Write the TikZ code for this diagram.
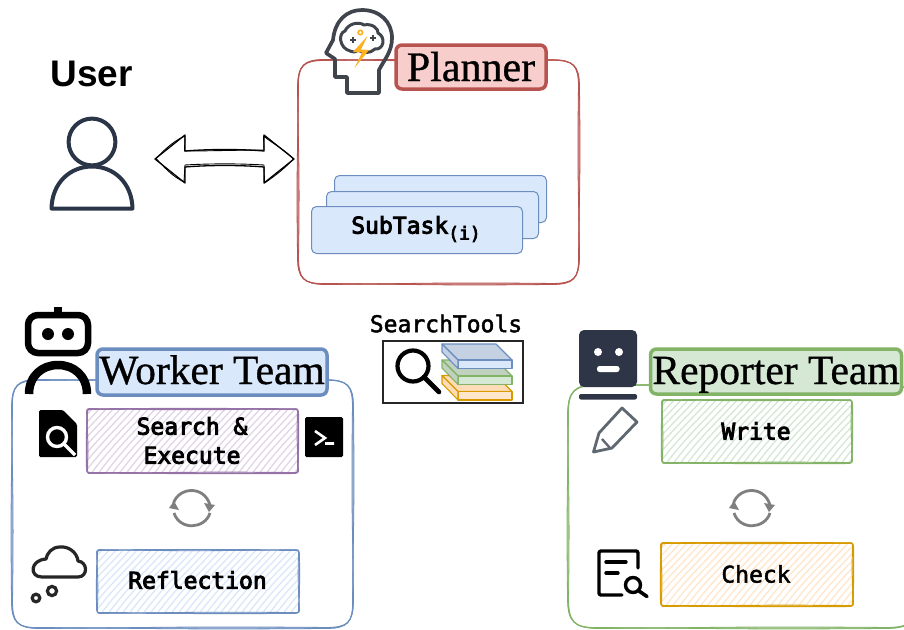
\documentclass[tikz,border=0pt]{standalone}
\usepackage{fontspec}
\setmainfont[FakeBold=0.8]{Liberation Serif}
\setsansfont{Liberation Sans}
\setmonofont{DejaVu Sans Mono}
\newfontfamily\monomed[FakeBold=4]{DejaVu Sans Mono}
\newfontfamily\monolite[FakeBold=2]{DejaVu Sans Mono}
\definecolor{redS}{HTML}{B85450}\definecolor{redF}{HTML}{F8CECC}
\definecolor{bluS}{HTML}{6C8EBF}\definecolor{bluF}{HTML}{DAE8FC}
\definecolor{grnS}{HTML}{82B366}\definecolor{grnF}{HTML}{D5E8D4}
\definecolor{oraS}{HTML}{D79B00}\definecolor{oraF}{HTML}{FFE6CC}
\definecolor{purS}{HTML}{9673A6}\definecolor{purF}{HTML}{E1D5E7}
\definecolor{navy}{HTML}{2A3647}\definecolor{headG}{HTML}{3F444D}
\definecolor{robo}{HTML}{2E3547}\definecolor{penG}{HTML}{5F6770}
\definecolor{cyc}{HTML}{7F7F7F}\definecolor{bolt}{HTML}{FDB022}
\newcommand\wob[6]{% x1 y1 x2 y2 r d
  ({#1+#5},{#2+0.3*#6}) .. controls ({(#1+#3)/2},{#2-#6}) and ({(#1+#3)/2+10},{#2-0.5*#6}) .. ({#3-#5},{#2+0.2*#6})
  .. controls ({#3-0.2*#5},{#2}) and ({#3+0.3*#6},{#2+0.2*#5}) .. ({#3+0.3*#6},{#2+#5})
  .. controls ({#3+#6},{(#2+#4)/2}) and ({#3+0.4*#6},{(#2+#4)/2+5}) .. ({#3-0.3*#6},{#4-#5})
  .. controls ({#3},{#4-0.2*#5}) and ({#3-0.2*#5},{#4+0.3*#6}) .. ({#3-#5},{#4+0.3*#6})
  .. controls ({(#1+#3)/2},{#4+#6}) and ({(#1+#3)/2-10},{#4+0.3*#6}) .. ({#1+#5},{#4-0.3*#6})
  .. controls ({#1+0.2*#5},{#4}) and ({#1-0.3*#6},{#4-0.2*#5}) .. ({#1-0.3*#6},{#4-#5})
  .. controls ({#1-#6},{(#2+#4)/2}) and ({#1-0.4*#6},{(#2+#4)/2-5}) .. ({#1+0.3*#6},{#2+#5})
  .. controls ({#1},{#2+0.2*#5}) and ({#1+0.2*#5},{#2+0.3*#6}) .. cycle}
\newcommand\bigbox[6]{% x1 y1 x2 y2 r colour
  \draw[#6,line width=1.1] \wob{#1}{#2}{#3}{#4}{#5}{0};
  \draw[#6,line width=.8] \wob{#1}{#2}{#3}{#4}{#5}{1.6};
  \draw[#6,line width=.8] \wob{#1}{#2}{#3}{#4}{#5}{-1.8};}
\newcommand\hatchbox[7]{% x1 y1 x2 y2 stroke hatch lw
  \begin{scope}
    \clip \wob{#1}{#2}{#3}{#4}{4}{0};
    \foreach \hx in {0,7,...,300}{
      \draw[#6,line width=1.3] ({#1-60+\hx},{#4+2}) .. controls ({#1-40+\hx},{#4-25}) and ({#1-20+\hx},{#2+20}) .. ({#1+\hx},{#2-2});}
  \end{scope}
  \draw[#5,line width=#7] \wob{#1}{#2}{#3}{#4}{4}{0.6};
  \draw[#5,line width=#7*.6] \wob{#1}{#2}{#3}{#4}{2}{-1.4};}
\newcommand\cycicon[2]{%
  \begin{scope}[shift={(#1,#2)}]
    \draw[cyc,line width=2.8] (-18.5,-5) .. controls (-13,-21) and (12,-23) .. (18,-3);
    \draw[cyc,line width=2.8] (-18,5) .. controls (-12,23) and (13,21) .. (18,5);
    \fill[cyc] (12,-5) -- (23,-3) -- (17,4) -- cycle;
    \fill[cyc] (-23,0) -- (-13,2) -- (-18,-7) -- cycle;
  \end{scope}}
\newcommand\layer[4]{% dy stroke top front
  \begin{scope}[shift={(0,#1)}]
    \filldraw[draw=#2,fill=#3,line width=1.1,line join=round] (442,344) -- (496,344) -- (512,360) -- (458,360) -- cycle;
    \filldraw[draw=#2,fill=#4,line width=1.1,line join=round] (458,360) rectangle (512,368.5);
    \filldraw[draw=#2,fill=#3,line width=1.1,line join=round] (442,344) -- (442,352) -- (458,368.5) -- (458,360) -- cycle;
  \end{scope}}
\tikzset{
  x=1pt,y=-1pt,
  titlebox/.style={draw=#1,line width=3.5,rounded corners=6,inner sep=0pt,anchor=center,font=\fontsize{41.5}{44}\selectfont,text=black},
  monotxt/.style={font=\monomed\fontsize{23}{29}\selectfont,text=black,inner sep=0pt,align=center},
  taskbox/.style={draw=bluS,fill=bluF,line width=1,rounded corners=5,minimum width=212,minimum height=47,inner sep=0pt},
}
\begin{document}
\begin{tikzpicture}
\useasboundingbox (0,0) rectangle (904,629);
\fill[white] (0,0) rectangle (904,629);
% User
\node[font=\sffamily\bfseries\fontsize{37}{40}\selectfont,inner sep=0pt] (usr) at (91.5,73.5) {User};
\draw[navy,line width=4] (92,142) circle[radius=23.4];
\draw[navy,line width=4,line join=round] (51.5,208.5) .. controls (52,183) and (70,166.5) .. (92,166.5) .. controls (114,166.5) and (132,183) .. (132.5,208.5) -- cycle;
% double arrow
\draw[black,line width=1.3,line join=round] (155,159) -- (185,135) -- (185,151) .. controls (210,149) and (240,149) .. (264,151) -- (264,135) -- (294,159) -- (264,183) -- (264,167) .. controls (240,165) and (210,165) .. (185,167) -- (185,183) -- cycle;
\draw[black,line width=.9,line join=round] (156,158.5) .. controls (168,146) and (176,140) .. (185,136) -- (184.5,151) .. controls (210,151) and (240,150) .. (264,150) -- (263.5,136) .. controls (275,145) and (285,150) .. (293.5,159) .. controls (285,168) and (275,176) .. (264.5,183) -- (264,165) .. controls (240,163.5) and (210,163.5) .. (185,165) -- (184,182) .. controls (172,176) and (165,168) .. (156,158.5);
% Planner
\bigbox{298}{60}{579}{284}{27}{redS}
\foreach \px/\py/\pn in {334/175/a,326/191/b}{\node[taskbox,anchor=north west] (task\pn) at (\px,\py) {};}
\node[taskbox,anchor=north west,minimum width=211] (taskc) at (311,206) {};
\node[monotxt,anchor=center] (subt) at (416,229) {SubTask\raisebox{-6pt}{\fontsize{18}{20}\selectfont(i)}};
\node[titlebox=redS,fill=redF,minimum width=150,text height=36,text depth=8,font=\fontsize{42}{44}\selectfont] (plan) at (471,67) {Planner};
% head icon
\draw[headG,line width=3.7,line join=round] (379,93) -- (347,93) -- (347,77) -- (335,77) -- (335,59) -- (326,53) -- (333,40) .. controls (335,20) and (347,10) .. (362,10) .. controls (380,10) and (392,22) .. (392,38) .. controls (392,52) and (384,60) .. (379,70) -- cycle;
\draw[headG,line width=3,line join=round] (350,51) .. controls (339,48) and (338,33) .. (345,31) .. controls (348,24) and (358,21) .. (364,25) .. controls (372,23) and (379,29) .. (378,33) .. controls (386,37) and (384,50) .. (375,49) .. controls (370,54) and (362,53) .. (358,50) .. controls (355,53) and (352,52) .. (350,51);
\fill[bolt] (367.5,36) -- (353,52) -- (362,52.5) -- (354.5,68) -- (369,50) -- (361,49.5) -- cycle;
\draw[bolt,line width=1.6] (360.3,32.5) circle[radius=2.2];
\draw[headG,line width=1.3] (350,40) -- (356,40) (353,37) -- (353,43) (370,38) -- (376,38) (373,35) -- (373,41);
% Worker team
\bigbox{12}{380}{353}{628}{27}{bluS}
\node[titlebox=bluS,fill=bluF,minimum width=230,text height=35,text depth=11] (work) at (212,372) {Worker Team};
\hatchbox{87}{409}{298}{473}{purS}{purF}{1.6}
\node[monotxt] (srch) at (192,440.5) {Search \&\\Execute};
\hatchbox{97}{550}{299}{613}{bluS}{bluF}{1.4}
\node[monotxt] (refl) at (197.5,580) {Reflection};
\cycicon{192}{508}
% robot
\draw[black,line width=6.5,rounded corners=10] (28,315) rectangle (88,353);
\fill[black] (54,307) rectangle (62,313);
\fill[black] (48,334) circle[radius=6] (68,334) circle[radius=6];
\draw[black,line width=8.5] (29,394) .. controls (29,376) and (42,365) .. (58,365) .. controls (74,365) and (87,376) .. (87,394);
% doc search icon
\fill[black,rounded corners=1.5] (39,410) -- (63,410) -- (77,424) -- (77,457) -- (39,457) -- cycle;
\draw[white,line width=3.4] (57,437) circle[radius=9.5];
\draw[white,line width=3.4] (64,444) -- (75,455);
% terminal
\fill[black,rounded corners=1.5] (305,417) rectangle (343,457);
\draw[white,line width=2.6] (315,431) -- (325,438) -- (315,445) (325,443.5) -- (334,443.5);
% cloud
\draw[black!85,line width=3.2,line join=round] (42,577) -- (78,577) .. controls (88,577) and (88,562) .. (78,561) .. controls (77,552) and (68,546) .. (60,547) .. controls (52,547) and (47,553) .. (46,559) .. controls (30,560) and (29,577) .. (42,577) -- cycle;
\draw[black!85,line width=3.2] (52,591) circle[radius=4.6] (36,598) circle[radius=3.8];
% search tools
\node[monotxt,font=\monolite\fontsize{23}{29}\selectfont] (stl) at (446,323.5) {SearchTools};
\node[draw=black!85,line width=1.2,minimum width=140,minimum height=62,inner sep=0pt] (sbox) at (453,372) {};
\draw[black,line width=4.2] (413,366) circle[radius=15.5];
\draw[black,line width=4.6,line cap=round] (424,377) -- (439,392);
\layer{31.5}{oraS}{oraF!90!orange}{oraF}
\layer{16}{grnS}{grnF!90!black}{grnF}
\layer{0}{bluS}{bluF!90!black}{bluF}
% Reporter team
\bigbox{568}{385}{916}{628}{30}{grnS}
\node[titlebox=grnS,fill=grnF,minimum width=251,text height=35,text depth=10] (repo) at (776,371.5) {Reporter Team};
\hatchbox{662}{400}{852}{463}{grnS}{grnF}{1.6}
\node[monotxt] (writ) at (756,431) {Write};
\hatchbox{661}{543}{853}{606}{oraS}{oraF}{1.6}
\node[monotxt,font=\monolite\fontsize{23}{29}\selectfont] (chek) at (756,574) {Check};
\cycicon{752}{508}
% reporter robot
\fill[robo,rounded corners=5] (579,330) rectangle (637,387);
\fill[white] (598,352) circle[radius=4] (619,352) circle[radius=4];
\fill[white,rounded corners=2.5] (597,366) rectangle (619.5,372);
\fill[robo,rounded corners=2] (579,394) rectangle (637,399.5);
% pencil
\draw[penG,line width=2.8,line join=round] (593.5,452) -- (599,433) -- (622,408) -- (637,422) -- (612,448) -- cycle;
\draw[penG,line width=2.4] (602,439) -- (610,448);
% check icon
\draw[black,line width=3.4,line join=round,line cap=round,rounded corners=2] (638,568) -- (638,551) -- (599,551) -- (599,595) -- (622,595);
\draw[black,line width=3.4,line cap=round] (606,562) -- (626,562) (606,573) -- (618,573);
\draw[black,line width=3.4] (633,585) circle[radius=7.5];
\draw[black,line width=3.6,line cap=round] (639,591) -- (647,596.5);
\end{tikzpicture}
\end{document}
